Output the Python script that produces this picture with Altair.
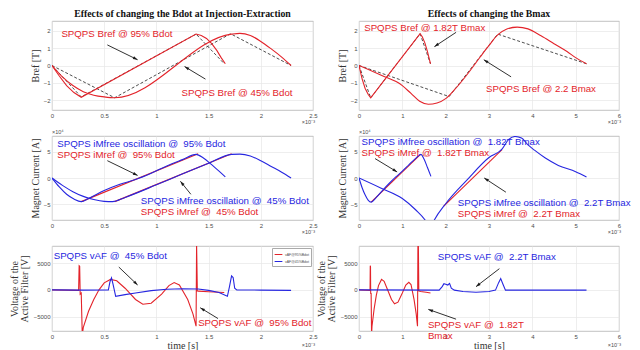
import math
import altair as alt
import pandas as pd

# ---------------- data (time in units of 1e-3 s) ----------------
# Panel 1: Bref, Bdot change
b95_ideal_t = [0, 0.28, 1.38, 1.65]
b95_ideal_v = [0, -1.8, 1.8, 0.1]
b45_ideal_t = [0, 0.6, 1.71, 2.29]
b45_ideal_v = [0, -1.85, 1.82, 0.0]
b95_ref_t = [0, 0.07, 0.14, 0.21, 0.28, 1.38, 1.43, 1.48, 1.53, 1.58, 1.62, 1.66]
b95_ref_v = [0, -0.6, -1.15, -1.55, -1.82, 1.8, 1.72, 1.55, 1.25, 0.85, 0.45, 0.1]
b45_ref_t = [0, 0.1, 0.2, 0.3, 0.4, 0.5, 0.6, 1.72, 1.8, 1.9, 2.0, 2.1, 2.2, 2.29]
b45_ref_v = [0, -0.65, -1.15, -1.5, -1.7, -1.8, -1.85, 1.8, 1.84, 1.72, 1.38, 0.95, 0.48, 0.0]

# Panel 2: Bref, Bmax change
b182_ideal_t = [0, 0.27, 1.41, 1.65]
b182_ideal_v = [0, -1.85, 1.82, 0.1]
b22_ideal_t = [0, 2.08, 3.2, 5.25]
b22_ideal_v = [0, -1.78, 1.8, 0.1]
b182_ref_t = [0, 0.07, 0.14, 0.21, 0.27, 1.41, 1.46, 1.52, 1.58, 1.62, 1.65]
b182_ref_v = [0, -0.75, -1.3, -1.65, -1.85, 1.82, 1.65, 1.3, 0.8, 0.4, 0.1]
b22_ref_t = [0, 0.5, 1.0, 1.2, 1.4, 1.6, 1.8, 2.0, 2.2, 2.5, 2.8, 3.0, 3.2, 3.4, 3.65, 3.9, 4.2, 4.5, 4.8, 5.0, 5.25]
b22_ref_v = [0, -0.55, -1.15, -1.6, -2.05, -2.22, -2.15, -1.9, -1.4, -0.5, 0.5, 1.15, 1.75, 2.08, 2.2, 2.1, 1.7, 1.25, 0.8, 0.45, 0.1]

# Panel 3: magnet current (x1e4 A), Bdot change
i95_free_t = [0, 0.07, 0.14, 0.21, 0.28, 0.35, 0.5, 0.65, 0.8, 0.95, 1.1, 1.25, 1.38, 1.45, 1.52, 1.6, 1.66]
i95_free_v = [0, -1.7, -3.1, -4.0, -4.5, -3.9, -2.4, -1.2, -0.3, 0.9, 2.3, 3.5, 4.5, 3.8, 2.7, 1.3, 0.2]
i95_ref_t = [0.28, 1.4]
i95_ref_v = [-4.5, 4.6]
i45_free_t = [0, 0.1, 0.2, 0.3, 0.4, 0.5, 0.58, 0.7, 1.0, 1.24, 1.5, 1.72, 1.8, 1.9, 2.0, 2.1, 2.2, 2.29]
i45_free_v = [0, -1.4, -2.6, -3.5, -4.1, -4.45, -4.5, -3.7, -1.3, 0.7, 2.8, 4.5, 4.55, 4.2, 3.3, 2.2, 1.1, 0.0]
i45_ref_t = [0.6, 1.72]
i45_ref_v = [-4.5, 4.6]

# Panel 4: magnet current (x1e4 A), Bmax change
i182_free_t = [0, 0.07, 0.14, 0.21, 0.28, 0.4, 0.55, 0.7, 0.85, 1.0, 1.15, 1.3, 1.43, 1.5, 1.58, 1.66]
i182_free_v = [0, -1.8, -3.2, -4.2, -4.6, -3.7, -2.3, -1.0, 0.2, 1.3, 2.5, 3.7, 4.5, 3.6, 2.0, 0.3]
i182_ref_t = [0.28, 1.42]
i182_ref_v = [-4.6, 4.5]
i22_free_t = [0, 0.5, 1.0, 1.3, 1.55, 1.6, 1.68, 1.72, 2.0, 2.5, 3.0, 3.3, 3.45, 3.6, 3.75, 3.9, 4.05, 4.3, 4.6, 5.0, 5.25]
i22_free_v = [0, -1.9, -3.9, -6.0, -8.3, -9.0, -9.0, -8.3, -4.9, -0.3, 3.9, 5.5, 7.3, 7.9, 7.6, 6.3, 5.3, 3.8, 2.4, 1.2, 0.2]
i22_ref_t = [1.95, 3.3]
i22_ref_v = [-5.4, 5.4]

# Panel 5: active filter voltage, Bdot change
v95_t = [0, 0.255, 0.26, 0.265, 0.27, 0.28, 0.29, 0.3, 0.35, 0.4, 0.45, 0.5, 0.56, 0.62, 0.7, 0.8, 0.87, 0.95,
         1.05, 1.12, 1.17, 1.22, 1.3, 1.35, 1.38, 1.385, 1.392, 1.4, 1.5, 1.65]
v95_v = [0, -100, 4500, 4400, -800, -600, -8500, -7000, -4000, -1800, 0, 1300, 1950, 1700, 300, -1800, -2700, -2500,
         -800, 800, 1350, 900, -1800, -4500, -6800, 8500, -200, -250, -350, -500]
v45_t = [0, 0.3, 0.54, 0.555, 0.57, 0.585, 0.61, 0.7, 0.8, 0.95, 1.1, 1.25, 1.4, 1.5, 1.6, 1.68, 1.7, 1.72,
         1.735, 1.75, 1.77, 2.0, 2.29]
v45_v = [0, -50, 0, 1500, 2250, 1000, -1200, -900, -600, -150, 100, 200, 150, -100, -500, -1200, 600, 2600,
         2300, 300, 0, -50, -100]

# Panel 6: active filter voltage, Bmax change
v182_t = [0, 0.255, 0.26, 0.265, 0.27, 0.28, 0.29, 0.3, 0.35, 0.4, 0.45, 0.52, 0.58, 0.65, 0.75, 0.82, 0.9,
          1.0, 1.08, 1.15, 1.2, 1.27, 1.32, 1.35, 1.36, 1.37, 1.38, 1.42, 1.55, 1.65]
v182_v = [0, -100, 4500, 4400, -800, -600, -8500, -6800, -3500, -1000, 800, 1950, 1600, 200, -1800, -2600, -2300,
          -600, 900, 1400, 1000, -1800, -4500, -6800, 8500, 8500, -200, -300, -450, -600]
v22_t = [0, 1.85, 1.92, 1.96, 2.0, 2.05, 2.09, 2.13, 2.2, 2.4, 2.7, 3.0, 3.15, 3.22, 3.27, 3.32, 3.38, 3.6, 5.25]
v22_v = [0, -50, 600, 1150, 1050, 900, 1200, 300, -50, -300, -450, -300, -50, 1300, 2100, 1100, -50, -50, -50]

legend_names = ["vAF@95%Bdot", "vAF@45%Bdot"]

# ---------------- styles ----------------
RED = "#e3232a"
BLUE = "#2626e0"
DASH = "#3a3a3a"
ARROW = "#1a1a1a"
GRAY = "#4d4d4d"
SANS = "Liberation Sans"
SERIF = "Liberation Serif"
ANN = 9.7
HEAD = "M0,0L-0.65,2L0.65,2Z"
SP2 = " \u00a0"  # double space kept in SVG

LW, RW = 261, 260
H1, H2, H3 = 89, 84, 85


def df(t, v):
    return pd.DataFrame({"t": t, "v": v})


def panel(w, h, xdom, xticks, ydom, yticks, yfmt, ytitle, ytpad, lines, texts, arrows,
          title=None, xtitle=None, extra=None, exp_top=None, exp_dy=10):
    xaxis = alt.Axis(values=xticks, format="~g", title=xtitle, titlePadding=1, labelFlush=False)
    yaxis = alt.Axis(values=yticks, format=yfmt, title=ytitle, titlePadding=ytpad, titleLineHeight=10)
    xenc = alt.X("t:Q", scale=alt.Scale(domain=xdom, nice=False, zero=False), axis=xaxis)
    yenc = alt.Y("v:Q", scale=alt.Scale(domain=ydom, nice=False, zero=False), axis=yaxis)
    layers = []
    for ln in lines:
        t, v, color, dash, interp = ln
        kw = dict(color=color, strokeWidth=1.1, clip=True, interpolate=interp)
        if dash:
            kw["strokeDash"] = [3, 2]
            kw["strokeWidth"] = 0.9
        layers.append(alt.Chart(df(t, v)).mark_line(**kw).encode(x=xenc, y=yenc))
    if extra is not None:
        layers.append(extra(xenc, yenc))
    sx = w / (xdom[1] - xdom[0])
    sy = h / (ydom[1] - ydom[0])
    if arrows:
        a = pd.DataFrame(arrows, columns=["t", "v", "t2", "v2"])
        layers.append(alt.Chart(a).mark_rule(color=ARROW, strokeWidth=0.9).encode(
            x=xenc, y=yenc, x2="t2:Q", y2="v2:Q"))
        hd = pd.DataFrame({
            "t": a["t2"], "v": a["v2"],
            "ang": [math.degrees(math.atan2((r.t2 - r.t) * sx, (r.v2 - r.v) * sy)) % 360 for r in a.itertuples()],
        })
        layers.append(alt.Chart(hd).mark_point(shape=HEAD, filled=True, size=22, color=ARROW, opacity=1,
                                               strokeWidth=0).encode(
            x=xenc, y=yenc, angle=alt.Angle("ang:Q", scale=None)))
    for tx in texts:
        t, v, label, color = tx
        layers.append(alt.Chart(pd.DataFrame({"t": [t], "v": [v], "s": [label]})).mark_text(
            align="left", baseline="middle", fontSize=ANN, font=SANS, color=color).encode(
            x=xenc, y=yenc, text="s:N"))
    layers.append(alt.Chart(pd.DataFrame({"s": ["\u00d710\u207b\u00b3"]})).mark_text(
        align="right", baseline="top", fontSize=5.5, font=SANS, color=GRAY).encode(
        x=alt.value(w + 2), y=alt.value(h + exp_dy), text="s:N"))
    if exp_top:
        layers.append(alt.Chart(pd.DataFrame({"s": [exp_top]})).mark_text(
            align="left", baseline="bottom", fontSize=5.5, font=SANS, color=GRAY).encode(
            x=alt.value(0), y=alt.value(-1), text="s:N"))
    props = dict(width=w, height=h)
    if title:
        props["title"] = alt.TitleParams(title, anchor="middle", font=SERIF, fontSize=9.8,
                                         fontWeight="bold", color="#111", offset=2)
    return alt.layer(*layers).properties(**props)


# Row 1
p1 = panel(LW, H1, [0, 2.5], [0, 0.5, 1, 1.5, 2, 2.5], [-2.55, 2.55], [-2, -1, 0, 1, 2], "d", "Bref [T]", 3,
           [(b95_ideal_t, b95_ideal_v, DASH, True, "linear"),
            (b45_ideal_t, b45_ideal_v, DASH, True, "linear"),
            (b95_ref_t, b95_ref_v, RED, False, "linear"),
            (b45_ref_t, b45_ref_v, RED, False, "monotone")],
           [(0.09, 1.78, "SPQPS Bref @ 95% Bdot", RED), (1.24, -1.56, "SPQPS Bref @ 45% Bdot", RED)],
           [(0.53, 1.18, 0.82, 0.33), (1.47, -0.78, 1.27, -0.06)],
           title="Effects of changing the Bdot at Injection-Extraction")
p2 = panel(RW, H1, [0, 6], [0, 1, 2, 3, 4, 5, 6], [-2.55, 2.55], [-2, -1, 0, 1, 2], "d", "Bref [T]", 3,
           [(b182_ideal_t, b182_ideal_v, DASH, True, "linear"),
            (b22_ideal_t, b22_ideal_v, DASH, True, "linear"),
            (b182_ref_t, b182_ref_v, RED, False, "linear"),
            (b22_ref_t, b22_ref_v, RED, False, "monotone")],
           [(0.12, 2.16, "SPQPS Bref @ 1.82T Bmax", RED), (2.93, -1.37, "SPQPS Bref @ 2.2 Bmax", RED)],
           [(2.24, 1.9, 1.74, 1.08), (3.51, -0.65, 2.88, 0.33)],
           title="Effects of changing the Bmax")

# Row 2
p3 = panel(LW, H2, [0, 2.5], [0, 0.5, 1, 1.5, 2, 2.5], [-8, 8], [-5, 0, 5], "d", "Magnet Current [A]", 3,
           [(i95_ref_t, i95_ref_v, RED, False, "linear"),
            (i45_ref_t, i45_ref_v, RED, False, "linear"),
            (i95_free_t, i95_free_v, BLUE, False, "monotone"),
            (i45_free_t, i45_free_v, BLUE, False, "monotone")],
           [(0.05, 6.5, "SPQPS iMfree oscillation @" + SP2 + "95% Bdot", BLUE),
            (0.05, 4.4, "SPQPS iMref @" + SP2 + "95% Bdot", RED),
            (0.85, -4.35, "SPQPS iMfree oscillation @" + SP2 + "45% Bdot", BLUE),
            (0.85, -6.4, "SPQPS iMref @" + SP2 + "45% Bdot", RED)],
           [(0.53, 3.3, 0.82, 0.5), (1.33, -3.1, 1.23, -0.63)],
           exp_top="\u00d710\u2074")
p4 = panel(RW, H2, [0, 6], [0, 1, 2, 3, 4, 5, 6], [-8, 8], [-5, 0, 5], "d", "Magnet Current [A]", 3,
           [(i182_ref_t, i182_ref_v, RED, False, "linear"),
            (i22_ref_t, i22_ref_v, RED, False, "linear"),
            (i182_free_t, i182_free_v, BLUE, False, "monotone"),
            (i22_free_t, i22_free_v, BLUE, False, "monotone")],
           [(0.06, 6.86, "SPQPS iMfree oscillation @" + SP2 + "1.82T Bmax", BLUE),
            (0.06, 4.8, "SPQPS iMref @" + SP2 + "1.82T Bmax", RED),
            (2.28, -4.8, "SPQPS iMfree oscillation @" + SP2 + "2.2T Bmax", BLUE),
            (2.28, -6.9, "SPQPS iMref @" + SP2 + "2.2T Bmax", RED)],
           [(0.37, 3.7, 0.88, 1.15), (3.39, -2.7, 2.89, 0.0)],
           exp_top="\u00d710\u2074")


# Row 3
def vaf_lines(xenc, yenc):
    d = pd.concat([df(v95_t, v95_v).assign(s=legend_names[0]), df(v45_t, v45_v).assign(s=legend_names[1])])
    return alt.Chart(d).mark_line(strokeWidth=1.1, clip=True).encode(
        x=xenc, y=yenc,
        color=alt.Color("s:N", scale=alt.Scale(domain=legend_names, range=[RED, BLUE]),
                        legend=alt.Legend(orient="top-right", title=None, labelFontSize=3.5, labelColor=GRAY,
                                          symbolType="stroke", symbolSize=60, symbolStrokeWidth=1,
                                          strokeColor="#aaaaaa", fillColor="white", padding=2, offset=2,
                                          rowPadding=0, labelOffset=2)))


p5 = panel(LW, H3, [0, 2.5], [0, 0.5, 1, 1.5, 2, 2.5], [-7700, 8200], [-5000, 0, 5000], "d",
           ["Voltage of the", "Active Filter [V]"], 4,
           [],
           [(0.016, 6400, "SPQPS vAF @" + SP2 + "45% Bdot", BLUE),
            (1.40, -6270, "SPQPS vAF @" + SP2 + "95% Bdot", RED)],
           [(0.64, 4260, 0.82, 910), (1.59, -5370, 1.42, -3350)],
           xtitle="time [s]", extra=vaf_lines, exp_dy=12)
p6 = panel(RW, H3, [0, 6], [0, 1, 2, 3, 4, 5, 6], [-7700, 8200], [-5000, 0, 5000], "d",
           ["Voltage of the", "Active Filter [V]"], 4,
           [(v182_t, v182_v, RED, False, "linear"),
            (v22_t, v22_v, BLUE, False, "linear")],
           [(1.82, 6100, "SPQPS vAF @" + SP2 + "2.2T Bmax", BLUE),
            (1.59, -6600, "SPQPS vAF @" + SP2 + "1.82T", RED),
            (1.59, -8600, "Bmax", RED)],
           [(3.24, 3960, 2.7, 600), (2.24, -5490, 1.6, -3660)],
           xtitle="time [s]", exp_dy=12)

chart = alt.concat(p1, p2, p3, p4, p5, p6, columns=2, bounds="flush",
                   spacing={"row": 26, "column": 46}).properties(
    padding={"left": 0, "top": 0, "right": 0, "bottom": 0}
).resolve_scale(color="independent").resolve_legend(color="independent").configure_view(
    stroke="#b3b3b3", strokeWidth=0.8
).configure_axis(
    grid=True, gridColor="#e6e6e6", gridWidth=0.7, domain=False, ticks=False,
    labelFont=SANS, labelFontSize=6, labelColor=GRAY, labelPadding=2,
    titleFont=SERIF, titleFontSize=10, titleFontWeight="normal", titleColor="#333333"
)

chart.save("out.html", embed_options={"renderer": "svg", "actions": False})
